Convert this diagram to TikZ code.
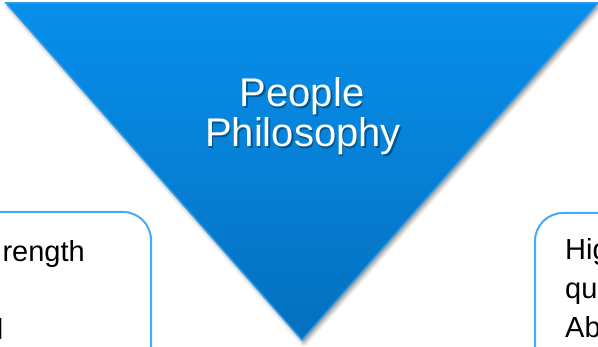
\documentclass[tikz,border=0pt]{standalone}
\usepackage{fontspec}
\setmainfont{Liberation Sans}
\usetikzlibrary{shadows.blur}
\definecolor{tritop}{HTML}{078FEC}
\definecolor{tribot}{HTML}{0570BE}
\definecolor{triedge}{HTML}{2C9CEB}
\definecolor{boxline}{HTML}{45AAF8}
\tikzset{
  sidebox/.style={draw=boxline, line width=2pt, rounded corners=28pt, fill=white},
  boxtext/.style={font=\fontsize{29}{35}\selectfont, text=black, inner sep=0pt},
  titletext/.style={font=\fontsize{40}{40}\selectfont, text=white, inner sep=0pt, anchor=base},
  titleshadow/.style={font=\fontsize{40}{40}\selectfont, text=black, opacity=0.35, inner sep=0pt, anchor=base}
}
\begin{document}
\begin{tikzpicture}[x=1pt,y=-1pt]
\useasboundingbox (0,0) rectangle (598,347);
\clip (0,0) rectangle (598,347);
% side boxes
\draw[sidebox] (-60,212) rectangle (151,420);
\draw[sidebox] (535,213) rectangle (700,420);
% triangle
\path[top color=tritop, bottom color=tribot, draw=triedge, line width=1.5pt,
  blur shadow={shadow xshift=2pt, shadow yshift=-3pt, shadow blur radius=4pt, shadow opacity=45}]
  (6,3) -- (598,3) -- (302,340) -- cycle;
% title
\node[titleshadow] (ts1) at (303.5,108.5) {People};
\node[titleshadow] (ts2) at (304.5,148.5) {Philosophy};
\node[titletext] (t1) at (302,107) {People};
\node[titletext] (t2) at (303,147) {Philosophy};
% left box text
\node[boxtext, anchor=base east] (l1) at (85,262) {rength};
\node[boxtext, anchor=base east] (l3) at (3.5,340) {l};
% right box text
\node[boxtext, anchor=base west] (r1) at (565,260) {Hig};
\node[boxtext, anchor=base west] (r2) at (565,299) {qu};
\node[boxtext, anchor=base west] (r3) at (565,338) {Ab};
\end{tikzpicture}
\end{document}
